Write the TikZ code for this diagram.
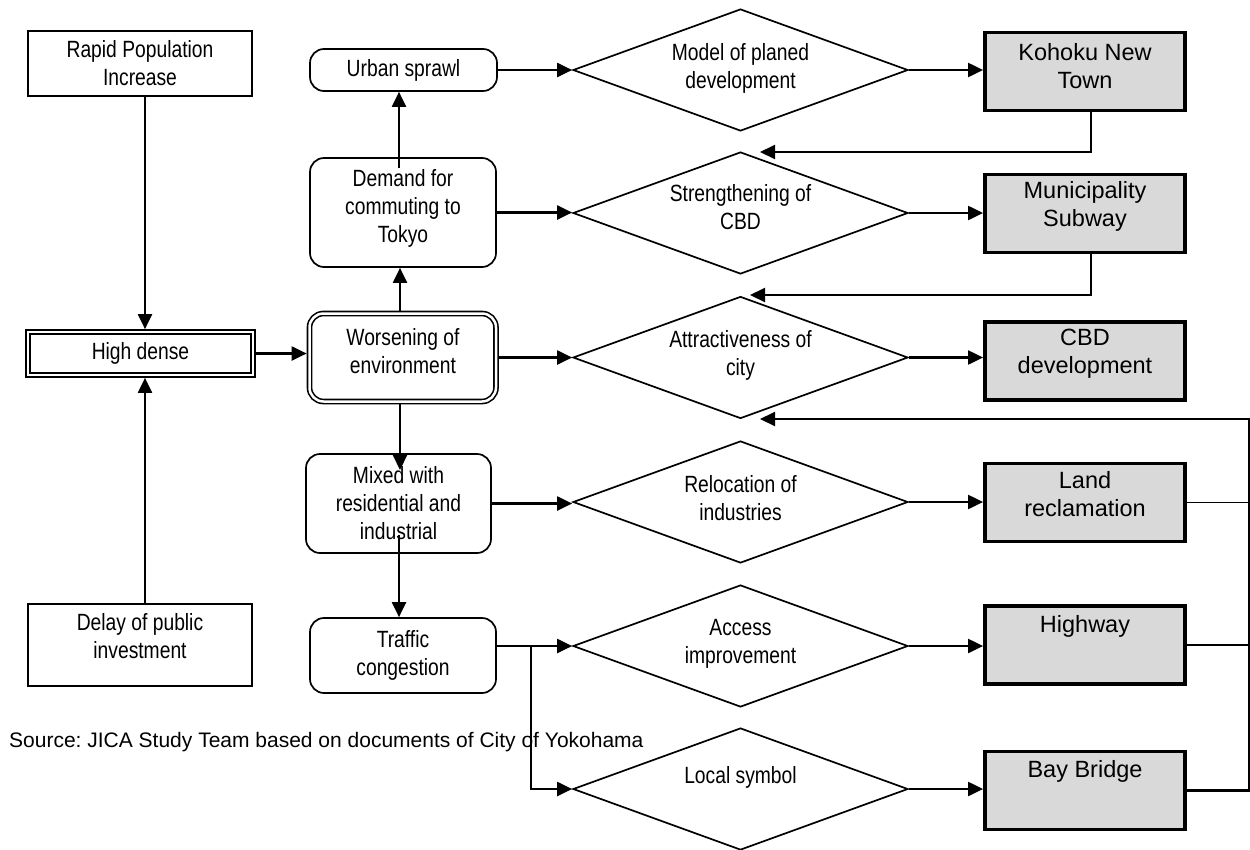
\documentclass[tikz,border=0pt]{standalone}
\usepackage{fontspec}
\setmainfont{Liberation Sans}
\newfontfamily\narrowsf{Liberation Sans}[FakeStretch=0.82]
\usetikzlibrary{shapes.geometric,arrows.meta,calc}
\definecolor{boxgrey}{HTML}{D9D9D9}
\frenchspacing

\begin{document}
\begin{tikzpicture}[x=1pt,y=-1pt,
  conn/.style={line width=2.1pt,-{Triangle[length=15pt,width=14pt]}},
  thinline/.style={line width=1.3pt},
  plainbox/.style={draw,line width=2pt,inner sep=0pt},
  roundbox/.style={draw,line width=1.7pt,rounded corners=14pt,inner sep=0pt},
  dblbox/.style={draw,double,line width=1.6pt,double distance=2.5pt,outer sep=2.85pt,inner sep=0pt},
  decision/.style={draw,diamond,line width=1.7pt,inner sep=0pt,minimum width=335pt,minimum height=122pt},
  measure/.style={draw,line width=3.8pt,fill=boxgrey,inner sep=0pt,minimum width=200pt,minimum height=78pt},
  ltext/.style={font={\narrowsf\fontsize{23.5pt}{28pt}\selectfont},align=center,inner sep=0pt},
  gtext/.style={font={\fontsize{23.5pt}{28pt}\selectfont},align=center,inner sep=0pt},
  srctext/.style={font={\fontsize{21pt}{25pt}\selectfont},inner sep=0pt,anchor=west}]

\useasboundingbox (0,0) rectangle (1250,849);

% left column: causes
\node[plainbox,minimum width=224pt,minimum height=65pt,ltext] (rapid) at (140,63.5) {Rapid Population\\Increase};
\node[dblbox,minimum width=225pt,minimum height=43pt,ltext] (high) at (140.5,353.5) {High dense};
\node[plainbox,minimum width=224pt,minimum height=82pt] (delay) at (140,645) {};
\node[ltext] (delay-t) at (140,636) {Delay of public\\investment};

% middle column: problems
\node[roundbox,minimum width=187pt,minimum height=42pt,ltext] (urban) at (403.5,70) {Urban sprawl};
\node[roundbox,minimum width=186pt,minimum height=109pt] (demand) at (403,212.5) {};
\node[ltext] (demand-t) at (403,208) {Demand for\\commuting to\\Tokyo};
\node[dblbox,rounded corners=14pt,minimum width=186.5pt,minimum height=88pt] (worse) at (402.75,357.5) {};
\node[ltext] (worse-t) at (403,351.5) {Worsening of\\environment};
\node[roundbox,minimum width=185pt,minimum height=99pt,ltext] (mixed) at (398.5,503.5) {Mixed with\\residential and\\industrial};
\node[roundbox,minimum width=186pt,minimum height=75pt,ltext] (traffic) at (403,655.5) {Traffic\\congestion};

% decisions
\node[decision] (d1) at (740.5,70) {};
\node[ltext] (d1-t) at (740.5,68.5) {Model of planed\\development};
\node[decision] (d2) at (740.5,213) {};
\node[ltext] (d2-t) at (740.5,207) {Strengthening of\\CBD};
\node[decision] (d3) at (740.5,357.5) {};
\node[ltext] (d3-t) at (740.5,355) {Attractiveness of\\city};
\node[decision] (d4) at (740.5,502) {};
\node[ltext] (d4-t) at (740.5,498.5) {Relocation of\\industries};
\node[decision] (d5) at (740.5,646) {};
\node[ltext] (d5-t) at (740.5,644) {Access\\improvement};
\node[decision] (d6) at (740.5,789) {};
\node[ltext] (d6-t) at (740.5,777) {Local symbol};

% projects
\node[measure] (kohoku) at (1085,71.5) {};
\node[gtext] (kohoku-t) at (1085,66) {Kohoku New\\Town};
\node[measure] (subway) at (1085,213.5) {};
\node[gtext] (subway-t) at (1085,206.5) {Municipality\\Subway};
\node[measure] (cbd) at (1085,361) {};
\node[gtext] (cbd-t) at (1085,354) {CBD\\development};
\node[measure] (land) at (1085,502.5) {};
\node[gtext] (land-t) at (1085,494) {Land\\reclamation};
\node[measure] (highway) at (1085,645) {};
\node[gtext] (highway-t) at (1085,626) {Highway};
\node[measure] (bay) at (1085,790.5) {};
\node[gtext] (bay-t) at (1085,771) {Bay Bridge};

\node[srctext] (source) at (9,742) {Source: JICA Study Team based on documents of City of Yokohama};

% helper points for the connectors
\coordinate (popx) at (145,0);
\coordinate (midx) at (400,0);
\coordinate (demx) at (399,168);
\coordinate (mixin) at (400,470);
\coordinate (mixout) at (399,535);
\coordinate (split) at (531,0);
\coordinate (fb1) at (760,152);
\coordinate (fb2) at (750,295);
\coordinate (bus) at (1249,419);
\coordinate (fb3) at (760,419);

% causes into high density
\draw[conn] (rapid.south -| popx) -- (high.north -| popx);
\draw[conn] (delay.north -| popx) -- (high.south -| popx);
\draw[conn] (high.east) -- (high.east -| worse.west);

% chain of problems
\draw[conn] (worse.north -| midx) -- (demand.south -| midx);
\draw[conn] (demx) -- (demx |- urban.south);
\draw[conn] (worse.south -| mixin) -- (mixin);
\draw[conn] (mixout) -- (mixout |- traffic.north);

% problems into decisions
\draw[conn] (urban.east) -- (urban.east -| d1.west);
\draw[conn] (demand.east) -- (demand.east -| d2.west);
\draw[conn] (worse.east) -- (worse.east -| d3.west);
\draw[conn] (mixed.east) -- (mixed.east -| d4.west);
\draw[conn] (traffic.east |- d5.west) -- (d5.west);
\draw[conn] (split |- d5.west) |- (d6.west);

% decisions into projects
\draw[conn] (d1.east) -- (d1.east -| kohoku.west);
\draw[conn] (d2.east) -- (d2.east -| subway.west);
\draw[conn] (d3.east) -- (d3.east -| cbd.west);
\draw[conn] (d4.east) -- (d4.east -| land.west);
\draw[conn] (d5.east) -- (d5.east -| highway.west);
\draw[conn] (d6.east) -- (d6.east -| bay.west);

% feedback from projects
\draw[conn] ([xshift=6pt]kohoku.south) |- (fb1);
\draw[conn] ([xshift=6pt]subway.south) |- (fb2);
\draw[conn] (bay.east) -| (bus) -- (fb3);
\draw[thinline] (land.east) -- (land.east -| bus);
\draw[thinline] (highway.east) -- (highway.east -| bus);
\end{tikzpicture}
\end{document}
